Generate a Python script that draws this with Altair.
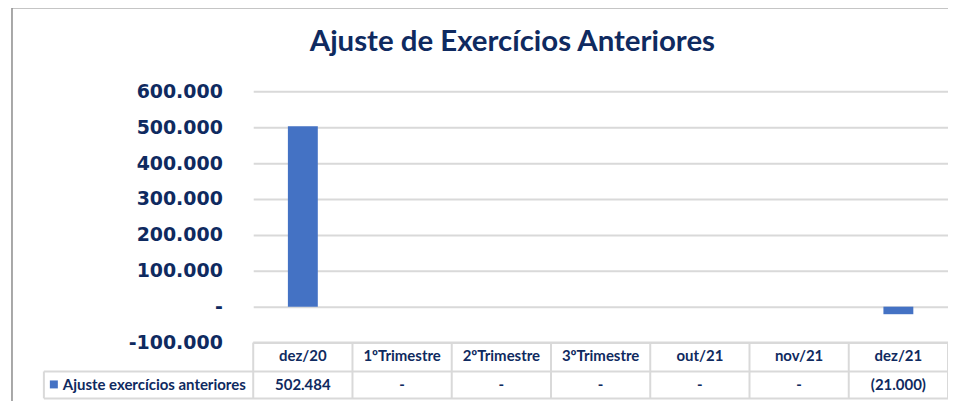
import altair as alt
import pandas as pd

# ---- data ----
categories = ["dez/20", "1ºTrimestre", "2ºTrimestre", "3ºTrimestre", "out/21", "nov/21", "dez/21"]
values = [502484, 0, 0, 0, 0, 0, -21000]
series_name = "Ajuste exercícios anteriores"
y_ticks = [-100000, 0, 100000, 200000, 300000, 400000, 500000, 600000]
title_text = "Ajuste de Exercícios Anteriores"


def fmt(v):
    if v == 0:
        return "-"
    s = f"{abs(v):,}".replace(",", ".")
    return f"({s})" if v < 0 else s


df = pd.DataFrame({"cat": categories, "value": values, "label": [fmt(v) for v in values]})

W, H = 697, 252
NAVY = "#0f2a60"
GRID = "#d9d9d9"
BLUE = "#4472C4"
BORDER = "#8c8c8c"

xscale = alt.Scale(domain=categories, paddingInner=0, paddingOuter=0)
xs = alt.X("cat:N", sort=categories, scale=xscale, axis=None)

label_expr = ("datum.value == 0 ? '-\u00a0\u00a0' : (datum.value < 0 ? '-' + format(-datum.value/1000, 'd') + '.000'"
              " : format(datum.value/1000, 'd') + '.000')")

bars = alt.Chart(df).mark_bar(size=30, color=BLUE).encode(
    x=xs,
    y=alt.Y(
        "value:Q",
        scale=alt.Scale(domain=[-100000, 600000], nice=False, zero=False),
        axis=alt.Axis(
            values=y_ticks, title=None, grid=True, gridColor=GRID, gridWidth=2,
            ticks=False, domain=False,
            labelFont="DejaVu Sans", labelFontWeight="bold", labelFontSize=19,
            labelColor=NAVY, labelPadding=31, labelExpr=label_expr,
        ),
    ),
    y2=alt.datum(0),
)

one = pd.DataFrame({"t": [title_text]})

title = alt.Chart(one).mark_text(
    font="Lato", fontSize=29.5, fontWeight="bold", color=NAVY, baseline="middle", align="center"
).encode(text="t:N", x=alt.value(260), y=alt.value(-49))

TFONT = dict(font="Lato", fontSize=15, fontWeight="bold", color=NAVY, baseline="middle")

# table text
header = alt.Chart(df).mark_text(**TFONT).encode(x=xs, y=alt.value(266), text="cat:N")
row = alt.Chart(df).mark_text(**TFONT).encode(x=xs, y=alt.value(295), text="label:N")

name_df = pd.DataFrame({"t": [series_name]})
row_label = alt.Chart(name_df).mark_text(align="left", **TFONT).encode(
    text="t:N", x=alt.value(-191), y=alt.value(295))
marker = alt.Chart(name_df).mark_square(size=64, color=BLUE, opacity=1).encode(
    x=alt.value(-200), y=alt.value(294))

# table lines
def hrule(x1, x2, y, color=GRID, w=2):
    return alt.Chart(one).mark_rule(color=color, strokeWidth=w).encode(
        x=alt.value(x1), x2=alt.value(x2), y=alt.value(y))


def vrule(x, y1, y2, color=GRID, w=2):
    return alt.Chart(one).mark_rule(color=color, strokeWidth=w).encode(
        x=alt.value(x), y=alt.value(y1), y2=alt.value(y2))


col_lines = alt.Chart(df).mark_rule(color=GRID, strokeWidth=2).encode(
    x=alt.X("cat:N", sort=categories, scale=xscale, axis=None, bandPosition=0),
    y=alt.value(252), y2=alt.value(308))

lines = [
    hrule(0, W, 252), hrule(-210, W, 281), hrule(-210, W, 308),
    vrule(W, 252, 308), vrule(-210, 281, 308), col_lines,
    hrule(-242, W, -84, BORDER, 1.5), vrule(-242, -84, 320, BORDER, 1.5),
]

chart = alt.layer(
    *lines, bars, title, header, row, row_label, marker
).properties(
    width=W, height=H,
    autosize=alt.AutoSizeParams(type="none"),
    padding={"left": 246, "top": 83, "right": 0, "bottom": 58},
).configure_view(stroke=None)

chart.save("out.html", embed_options={"renderer": "svg", "actions": False})
